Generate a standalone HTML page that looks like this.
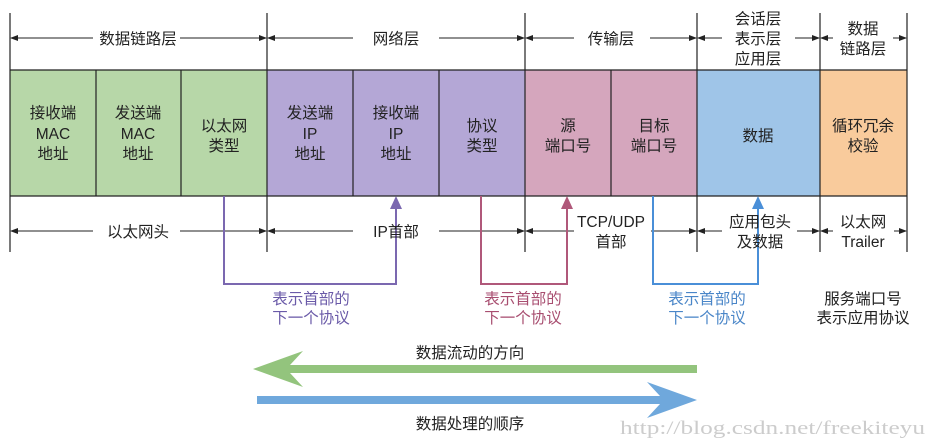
<!DOCTYPE html>
<html><head><meta charset="utf-8"><style>
body{margin:0;background:#fff}
svg{display:block}
text{font-family:"Liberation Sans","Noto Sans CJK SC",sans-serif;font-size:15.5px;fill:#222;text-anchor:middle}
</style></head><body>
<svg width="932" height="439" viewBox="0 0 932 439">
<defs>
<marker id="a" markerWidth="8" markerHeight="6" refX="7" refY="3" orient="auto"><path d="M0,0L8,3L0,6z" fill="#222"/></marker>
</defs>
<rect x="10" y="70" width="257" height="126" fill="#b7d7a8"/>
<rect x="267" y="70" width="258" height="126" fill="#b4a7d6"/>
<rect x="525" y="70" width="172" height="126" fill="#d5a6bd"/>
<rect x="697" y="70" width="123" height="126" fill="#9fc5e8"/>
<rect x="820" y="70" width="87" height="126" fill="#f9cb9c"/>
<g stroke="#222" stroke-width="1.2" fill="none">
<line x1="10" y1="70" x2="907" y2="70"/><line x1="10" y1="196" x2="907" y2="196"/>
<line x1="96" y1="70" x2="96" y2="196"/><line x1="181" y1="70" x2="181" y2="196"/>
<line x1="353" y1="70" x2="353" y2="196"/><line x1="439" y1="70" x2="439" y2="196"/>
<line x1="611" y1="70" x2="611" y2="196"/>
<line x1="10" y1="13" x2="10" y2="252"/><line x1="267" y1="13" x2="267" y2="252"/>
<line x1="525" y1="13" x2="525" y2="252"/><line x1="697" y1="13" x2="697" y2="252"/>
<line x1="820" y1="13" x2="820" y2="252"/><line x1="907" y1="13" x2="907" y2="252"/>
</g>
<g stroke="#222" stroke-width="1" marker-end="url(#a)">
<line x1="93" y1="38" x2="11" y2="38"/><line x1="180" y1="38" x2="266" y2="38"/>
<line x1="353" y1="38" x2="268" y2="38"/><line x1="439" y1="38" x2="524" y2="38"/>
<line x1="574" y1="38" x2="526" y2="38"/><line x1="650" y1="38" x2="696" y2="38"/>
<line x1="722" y1="38" x2="698" y2="38"/><line x1="795" y1="38" x2="819" y2="38"/>
<line x1="833" y1="38" x2="821" y2="38"/><line x1="893" y1="38" x2="906" y2="38"/>
<line x1="93" y1="231" x2="11" y2="231"/><line x1="180" y1="231" x2="266" y2="231"/>
<line x1="353" y1="231" x2="268" y2="231"/><line x1="439" y1="231" x2="524" y2="231"/>
<line x1="574" y1="231" x2="526" y2="231"/><line x1="651" y1="231" x2="696" y2="231"/>
<line x1="722" y1="231" x2="698" y2="231"/><line x1="797" y1="231" x2="819" y2="231"/>
<line x1="833" y1="231" x2="821" y2="231"/><line x1="894" y1="231" x2="906" y2="231"/>
</g>
<path d="M224,196V284H396V206" stroke="#7b68b0" stroke-width="2" fill="none"/>
<path d="M390,209L396,196L402,209z" fill="#7b68b0"/>
<path d="M481,196V284H567V206" stroke="#b0587a" stroke-width="2" fill="none"/>
<path d="M561,209L567,196L573,209z" fill="#b0587a"/>
<path d="M653,196V284H758V206" stroke="#4a8fd8" stroke-width="2" fill="none"/>
<path d="M752,209L758,196L764,209z" fill="#4a8fd8"/>
<path d="M697,365H290L303,351L253,369L303,387L290,373H697z" fill="#93c47d"/>
<path d="M257,396H660L647,382L697,400L647,418L660,404H257z" fill="#6fa8dc"/>
<text x="138" y="44">数据链路层</text>
<text x="396" y="44">网络层</text>
<text x="611" y="44">传输层</text>
<text x="758" y="24">会话层</text><text x="758" y="44">表示层</text><text x="758" y="64">应用层</text>
<text x="863" y="34">数据</text><text x="863" y="54">链路层</text>
<text x="53" y="118">接收端</text><text x="53" y="139">MAC</text><text x="53" y="159">地址</text>
<text x="138" y="118">发送端</text><text x="138" y="139">MAC</text><text x="138" y="159">地址</text>
<text x="224" y="131">以太网</text><text x="224" y="151">类型</text>
<text x="310" y="118">发送端</text><text x="310" y="139">IP</text><text x="310" y="159">地址</text>
<text x="396" y="118">接收端</text><text x="396" y="139">IP</text><text x="396" y="159">地址</text>
<text x="482" y="131">协议</text><text x="482" y="151">类型</text>
<text x="568" y="131">源</text><text x="568" y="151">端口号</text>
<text x="654" y="131">目标</text><text x="654" y="151">端口号</text>
<text x="758" y="141">数据</text>
<text x="863" y="131">循环冗余</text><text x="863" y="151">校验</text>
<text x="138" y="237">以太网头</text>
<text x="396" y="237">IP首部</text>
<text x="611" y="227">TCP/UDP</text><text x="611" y="247">首部</text>
<text x="760" y="227">应用包头</text><text x="760" y="247">及数据</text>
<text x="863" y="227">以太网</text><text x="863" y="247">Trailer</text>
<text x="311" y="304" style="fill:#6a5aa8">表示首部的</text><text x="311" y="323" style="fill:#6a5aa8">下一个协议</text>
<text x="523" y="304" style="fill:#a84e70">表示首部的</text><text x="523" y="323" style="fill:#a84e70">下一个协议</text>
<text x="707" y="304" style="fill:#4a86c8">表示首部的</text><text x="707" y="323" style="fill:#4a86c8">下一个协议</text>
<text x="863" y="304">服务端口号</text><text x="863" y="323">表示应用协议</text>
<text x="470" y="358">数据流动的方向</text>
<text x="470" y="429">数据处理的顺序</text>
<text x="620" y="434" textLength="305" lengthAdjust="spacingAndGlyphs" style="text-anchor:start;font-family:'Liberation Serif',serif;font-size:19px;fill:#ccc">http://blog.csdn.net/freekiteyu</text>
</svg>
</body></html>
